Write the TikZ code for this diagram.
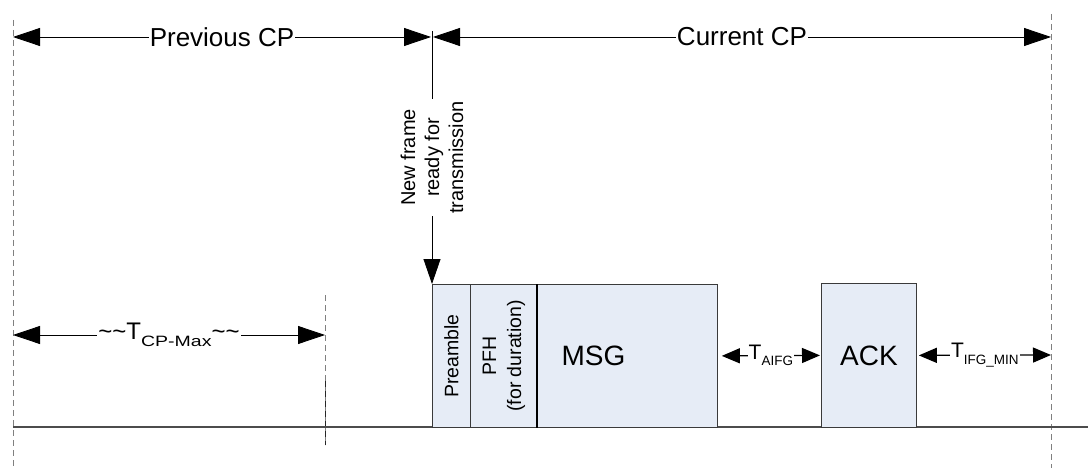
\documentclass[tikz,border=0pt]{standalone}
\usepackage{fontspec}
\usepackage{graphicx}
\setmainfont{Liberation Sans}
\usetikzlibrary{arrows.meta}
\definecolor{boxfill}{HTML}{E6ECF6}
\definecolor{edge}{HTML}{3A3A3A}
\newcommand{\mysub}[2]{\raisebox{-0.3em}{\fontsize{#1}{#1}\selectfont #2}}
\begin{document}
\begin{tikzpicture}[x=1pt,y=-1pt,
  dimarrow/.style={line width=0.8pt,{Triangle[length=27pt,width=18pt]}-{Triangle[length=27pt,width=18pt]}},
  smallarrow/.style={line width=1.2pt,{Triangle[length=18pt,width=15pt]}-{Triangle[length=18pt,width=15pt]}},
  gaplbl/.style={fill=white,inner sep=1pt},
  guide/.style={draw=gray,line width=0.8pt,dash pattern=on 6pt off 4pt},
  framebox/.style={draw=edge,fill=boxfill,line width=0.8pt,inner sep=0pt},
  toplbl/.style={font=\fontsize{26}{30}\selectfont},
  biglbl/.style={font=\fontsize{28}{32}\selectfont},
  rotlbl/.style={rotate=90,align=center,font=\fontsize{19.5}{25}\selectfont}]
\useasboundingbox (0,0) rectangle (1088,468);
% guides
\coordinate (lt) at (13,20); \coordinate (lb) at (13,468);
\coordinate (rt) at (1051,14); \coordinate (rb) at (1051,468);
\coordinate (mt) at (325,295); \coordinate (mb) at (325,445);
\coordinate (md) at (325,381);
\draw[guide] (lt) -- (lb);
\draw[guide] (rt) -- (rb);
\draw[guide] (mt) -- (mb);
\draw[guide,draw=black!85] (md) -- (mb);
% baseline
\coordinate (b0) at (13,427); \coordinate (b1) at (1088,427);
\draw[draw=black!70,line width=1.2pt] (b0) -- (b1);
% boxes
\node[framebox,minimum width=38,minimum height=143,anchor=north west] (pre) at (432,284) {};
\node[framebox,minimum width=67,minimum height=143,anchor=north west] (pfh) at (470,284) {};
\node[framebox,minimum width=180,minimum height=143,anchor=north west] (msg) at (537,284) {};
\node[framebox,minimum width=95,minimum height=144,anchor=north west] (ack) at (821,283) {};
\draw[line width=1.6pt,black] (msg.north west) -- (msg.south west);
\node[rotlbl] (pretxt) at (pre.center) {Preamble};
\node[rotlbl] (pfhtxt) at (pfh.center) {PFH\\(for duration)};
\node[biglbl] (msgtxt) at ([xshift=-34pt]msg.center) {MSG};
\node[biglbl] (acktxt) at (ack.center) {ACK};
% top dimension arrows
\coordinate (p0) at (13,37); \coordinate (p1) at (431,37);
\coordinate (c0) at (433,37); \coordinate (c1) at (1051,37);
\draw[dimarrow] (p0) -- node[gaplbl,toplbl] {Previous CP} (p1);
\draw[dimarrow] (c0) -- node[gaplbl,toplbl] {Current CP} (c1);
% new frame arrow
\coordinate (nf) at (432,31);
\draw[line width=0.8pt,-{Triangle[length=25pt,width=17pt]}] (nf) -- node[fill=white,inner sep=2pt,rotate=90,align=center,font=\fontsize{20}{24}\selectfont] {New frame\\ready for\\transmission} (pre.north west);
% T_CP-Max
\coordinate (k0) at (13,335); \coordinate (k1) at (325,335);
\draw[dimarrow] (k0) -- node[gaplbl,font=\fontsize{24}{28}\selectfont] {\textasciitilde\textasciitilde T\raisebox{-0.3em}{\scalebox{1.3}[1]{\fontsize{15}{15}\selectfont CP-Max}}\textasciitilde\textasciitilde} (k1);
% small gaps
\coordinate (ife) at (1051,355);
\draw[smallarrow] ([xshift=4pt]msg.east) -- node[gaplbl,font=\fontsize{21}{24}\selectfont] {T\mysub{13.5}{AIFG}} ([xshift=-1pt]ack.west);
\draw[smallarrow] ([xshift=2pt]ack.east) -- node[gaplbl,font=\fontsize{21}{24}\selectfont] {T\mysub{13.5}{IFG\_MIN}} (ife);
\end{tikzpicture}
\end{document}
